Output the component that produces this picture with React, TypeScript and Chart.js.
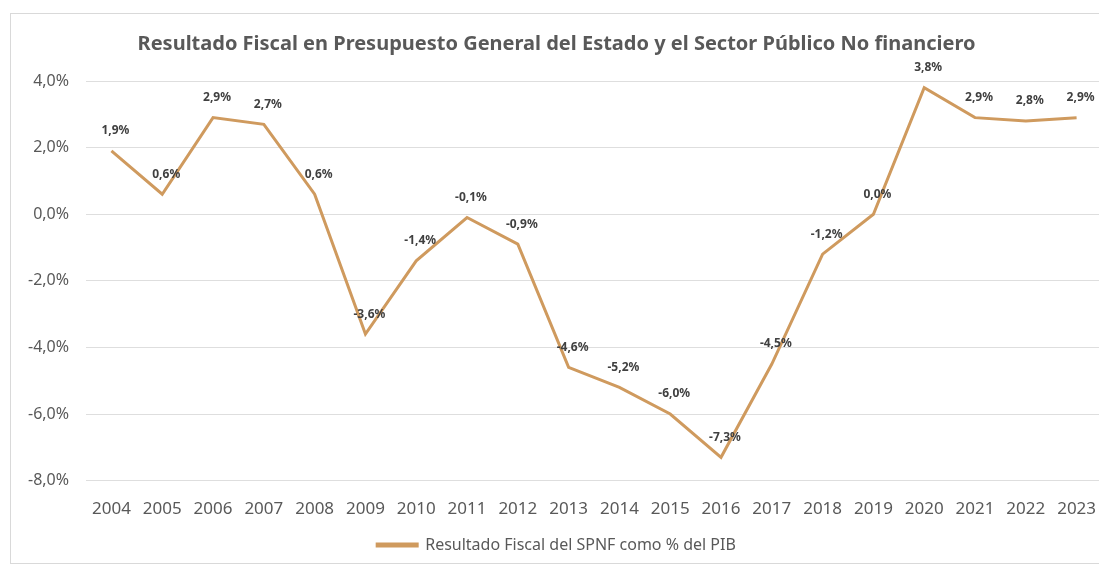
import React, { useEffect, useRef } from "react";
import { Chart, registerables } from "chart.js";

Chart.register(...registerables);

const years: string[] = ["2004","2005","2006","2007","2008","2009","2010","2011","2012","2013","2014","2015","2016","2017","2018","2019","2020","2021","2022","2023"];
const resultadoSPNF: number[] = [1.9, 0.6, 2.9, 2.7, 0.6, -3.6, -1.4, -0.1, -0.9, -4.6, -5.2, -6.0, -7.3, -4.5, -1.2, 0.0, 3.8, 2.9, 2.8, 2.9];
const titleText = "Resultado Fiscal en Presupuesto General del Estado y el Sector Público No financiero";
const seriesLabel = "Resultado Fiscal del SPNF como % del PIB";

const fmt = (v: number) => v.toFixed(1).replace(".", ",") + "%";

const LINE_COLOR = "#CF9A5E";
const TEXT_COLOR = "#595959";
const FONT = "'Noto Sans', 'Open Sans', sans-serif";

const dataLabels = {
  id: "dataLabels",
  afterDatasetsDraw(chart: any) {
    const ctx = chart.ctx;
    const meta = chart.getDatasetMeta(0);
    const data = chart.data.datasets[0].data as number[];
    ctx.save();
    ctx.font = `bold 12px ${FONT}`;
    ctx.fillStyle = "#404040";
    ctx.textAlign = "center";
    ctx.textBaseline = "middle";
    meta.data.forEach((pt: any, i: number) => {
      ctx.fillText(fmt(data[i]), pt.x + 4, pt.y - 20);
    });
    ctx.restore();
  },
};

export default function App() {
  const ref = useRef<HTMLCanvasElement | null>(null);
  useEffect(() => {
    if (!ref.current) return;
    const chart = new Chart(ref.current, {
      type: "line",
      data: {
        labels: years,
        datasets: [
          {
            label: seriesLabel,
            data: resultadoSPNF,
            borderColor: LINE_COLOR,
            backgroundColor: LINE_COLOR,
            borderWidth: 3,
            pointRadius: 0,
            tension: 0,
          },
        ],
      },
      options: {
        animation: false,
        responsive: true,
        maintainAspectRatio: false,
        layout: { padding: { left: 0, right: 6, top: 0, bottom: 0 } },
        plugins: {
          title: {
            display: true,
            text: titleText,
            color: TEXT_COLOR,
            font: { family: FONT, size: 20, weight: "bold" },
            padding: { top: 18, bottom: 25 },
          },
          legend: {
            display: true,
            position: "bottom",
            labels: {
              color: TEXT_COLOR,
              font: { family: FONT, size: 16 },
              boxWidth: 40,
              boxHeight: 2,
              padding: 8,
            },
          },
          tooltip: { enabled: false },
        },
        scales: {
          x: {
            offset: true,
            grid: { display: false },
            border: { display: false },
            ticks: { color: TEXT_COLOR, font: { family: FONT, size: 17 }, padding: 10, maxRotation: 0 },
          },
          y: {
            min: -8,
            max: 4,
            grid: { color: "#dedede", drawTicks: false },
            border: { display: false },
            ticks: {
              stepSize: 2,
              color: TEXT_COLOR,
              font: { family: FONT, size: 16 },
              padding: 17,
              callback: (v: any) => fmt(Number(v)),
            },
          },
        },
      },
      plugins: [dataLabels],
    });
    return () => chart.destroy();
  }, []);
  return (
    <div
      style={{
        marginTop: 5,
        marginLeft: 2,
        width: 1097,
        height: 549,
        border: "1px solid #d9d9d9",
        position: "relative",
        background: "#fff",
      }}
    >
      <canvas ref={ref} />
    </div>
  );
}
